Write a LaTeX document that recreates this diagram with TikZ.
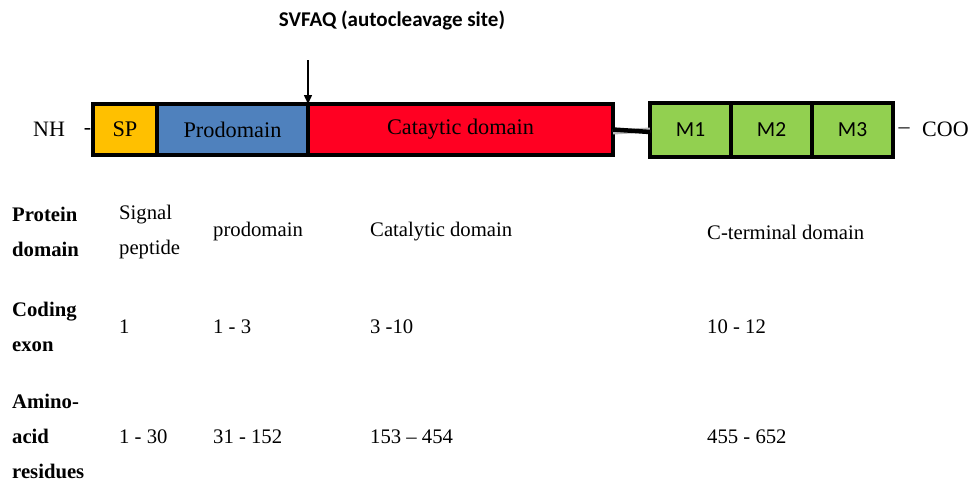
\documentclass[tikz,border=0pt]{standalone}
\usepackage{fontspec}
\setmainfont{Liberation Serif}
\newfontfamily\calibfont{Carlito}
\usetikzlibrary{positioning,arrows.meta}
\definecolor{spcol}{HTML}{FFC000}
\definecolor{procol}{HTML}{4F81BD}
\definecolor{catcol}{HTML}{FF0022}
\definecolor{mcol}{HTML}{92D050}
\begin{document}
\begin{tikzpicture}[
        x=1pt, y=-1pt,
        domainbox/.style={draw, line width=3.2pt, outer sep=0pt, inner sep=0pt,
            minimum height=51pt, font=\fontsize{22.3}{24}\selectfont},
        motif/.style={domainbox, fill=mcol, minimum width=81pt, minimum height=54pt,
            font=\calibfont\fontsize{21.5}{24}\selectfont},
        term/.style={inner sep=0pt, font=\fontsize{22}{24}\selectfont},
        rowhead/.style={anchor=west, inner sep=0pt, align=left,
            font=\bfseries\fontsize{20.7}{35}\selectfont},
        cell/.style={anchor=west, inner sep=0pt, align=left,
            font=\fontsize{20.7}{35}\selectfont}
    ]
    \useasboundingbox (0,0) rectangle (971,482);
    % bar
    \node[domainbox, fill=spcol, minimum width=64pt, anchor=west] (sp) at (93,129.5) {SP};
    \node[domainbox, fill=procol, minimum width=151pt, right=0pt of sp] (prodomain) {Prodomain};
    \node[domainbox, fill=catcol, minimum width=305pt, right=0pt of prodomain] (catalytic) {Cataytic domain};
    \node[motif, anchor=west] (mone) at (650,130) {M1};
    \node[motif, right=0pt of mone] (mtwo) {M2};
    \node[motif, right=0pt of mtwo] (mthree) {M3};
    \draw[line width=5pt, gray!55] ([yshift=-2.5pt]catalytic.east) -- ([yshift=0pt]mone.west);
    \draw[line width=4.5pt] (catalytic.east) -- ([yshift=-2pt]mone.west);
    % ends
    \node[term, anchor=west] (nh) at (33,129) {NH};
    \node[term] (nhdash) at (87.5,131) {-};
    \node[term] (coodash) at (904,131) {–};
    \node[term, anchor=west] (coo) at (922,129) {COO};
    % cleavage site
    \node[inner sep=0pt, font=\calibfont\bfseries\fontsize{21}{24}\selectfont] (title) at (392,20) {SVFAQ (autocleavage site)};
    \coordinate (cleave) at (308,60);
    \draw[line width=1.5pt, -{Triangle[width=8pt,length=9pt]}] (cleave) -- (prodomain.north east);
    % table
    \node[rowhead] (domainhead) at (12,232) {Protein\\domain};
    \node[cell] (signal) at (119,232) {Signal\\peptide};
    \node[cell] (prodomaintxt) at (213,232) {prodomain};
    \node[cell] (catalytictxt) at (370,232) {Catalytic domain};
    \node[cell] (cterminal) at (707,232) {C-terminal domain};
    \node[rowhead] (exonhead) at (12,327) {Coding\\exon};
    \node[cell] (exonsp) at (119,327) {1};
    \node[cell] (exonpro) at (213,327) {1 - 3};
    \node[cell] (exoncat) at (370,327) {3 -10};
    \node[cell] (exoncterm) at (707,327) {10 - 12};
    \node[rowhead] (residuehead) at (12,436) {Amino-\\acid\\residues};
    \node[cell] (ressp) at (119,437) {1 - 30};
    \node[cell] (respro) at (213,437) {31 - 152};
    \node[cell] (rescat) at (370,437) {153 – 454};
    \node[cell] (rescterm) at (707,437) {455 - 652};
\end{tikzpicture}
\end{document}
